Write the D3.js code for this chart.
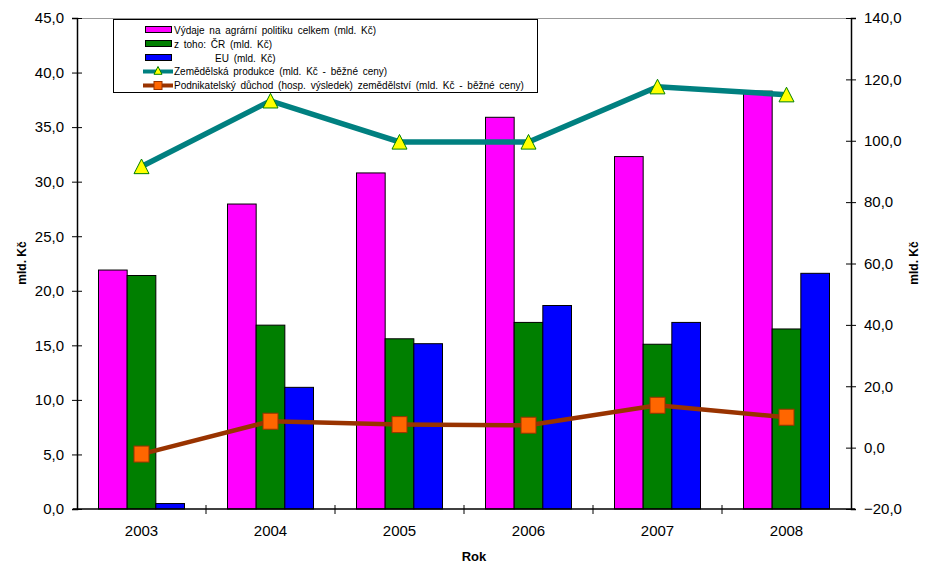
<!DOCTYPE html>
<html>
<head>
<meta charset="utf-8">
<script src="https://cdn.jsdelivr.net/npm/d3@7"></script>
<style>
  html, body { margin: 0; padding: 0; background: #fff; }
  svg { display: block; font-family: "Liberation Sans", Arial, sans-serif; }
</style>
</head>
<body>
<svg id="chart" width="935" height="577"></svg>
<script>
// ---- Data ----
const years = ["2003", "2004", "2005", "2006", "2007", "2008"];
const vydajeCelkem = [21.9, 27.95, 30.8, 35.9, 32.3, 38.3];
const vydajeCR = [21.4, 16.85, 15.6, 17.1, 15.1, 16.5];
const vydajeEU = [0.5, 11.15, 15.15, 18.65, 17.1, 21.6];
const zemProdukce = [91.6, 113.0, 99.6, 99.6, 117.6, 115.0];
const podnDuchod = [-2.1, 8.6, 7.5, 7.3, 13.8, 9.9];
const leftTicks = [0, 5, 10, 15, 20, 25, 30, 35, 40, 45];
const rightTicks = [-20, 0, 20, 40, 60, 80, 100, 120, 140];
const barSeriesNames = ["Výdaje na agrární politiku celkem (mld. Kč)", "z toho: ČR (mld. Kč)", "EU (mld. Kč)"];
const lineSeriesNames = ["Zemědělská produkce (mld. Kč - běžné ceny)", "Podnikatelský důchod (hosp. výsledek) zemědělství (mld. Kč - běžné ceny)"];
const barColors = ["#ff00ff", "#007f00", "#0000ff"];

const svg = d3.select("#chart");
const L = 77, R = 851, T = 18, B = 509;

const x0 = d3.scaleBand().domain(years).range([L, R]).padding(0);
const bw = x0.bandwidth();
const groupW = bw * 3 / 4.5;
const x1 = d3.scaleBand().domain([0, 1, 2]).range([0, groupW]).padding(0);
const yL = d3.scaleLinear().domain([0, 45]).range([B, T]);
const yR = d3.scaleLinear().domain([-20, 140]).range([B, T]);
const fmt = v => d3.format(".1f")(v).replace(".", ",");

// top border of plot area
svg.append("line").attr("x1", L).attr("x2", R).attr("y1", T + 0.5).attr("y2", T + 0.5)
  .attr("stroke", "#999").attr("stroke-width", 1);

// bars
const barData = [vydajeCelkem, vydajeCR, vydajeEU];
barData.forEach((arr, si) => {
  svg.append("g").selectAll("rect").data(years).join("rect")
    .attr("x", (d) => x0(d) + (bw - groupW) / 2 + x1(si))
    .attr("width", x1.bandwidth())
    .attr("y", (d, i) => yL(arr[i]))
    .attr("height", (d, i) => yL(0) - yL(arr[i]))
    .attr("fill", barColors[si])
    .attr("stroke", "#000").attr("stroke-width", 1);
});

// axes
const gL = svg.append("g").attr("transform", `translate(${L},0)`)
  .call(d3.axisLeft(yL).tickValues(leftTicks).tickFormat(fmt).tickSize(5).tickPadding(8));
const gR = svg.append("g").attr("transform", `translate(${R},0)`)
  .call(d3.axisRight(yR).tickValues(rightTicks).tickFormat(fmt).tickSize(5).tickPadding(8));
[gL, gR].forEach(g => {
  g.select(".domain").attr("stroke", "#000").attr("stroke-width", 1.5);
  g.selectAll(".tick line").attr("stroke", "#000");
  g.selectAll(".tick text").attr("font-size", 15).attr("fill", "#000")
    .attr("font-family", "Liberation Sans, Arial, sans-serif");
});
gL.selectAll(".tick line").attr("x1", 5).attr("x2", -5);
gR.selectAll(".tick line").attr("x1", -5).attr("x2", 5);

// category axis
const gB = svg.append("g").attr("transform", `translate(0,${B})`);
gB.append("line").attr("x1", L - 4).attr("x2", R + 4).attr("y1", 0).attr("y2", 0)
  .attr("stroke", "#000").attr("stroke-width", 1.5);
gB.selectAll("line.tk").data(years.slice(1)).join("line").attr("class", "tk")
  .attr("x1", d => x0(d)).attr("x2", d => x0(d)).attr("y1", -4).attr("y2", 5)
  .attr("stroke", "#000");
gB.selectAll("text").data(years).join("text")
  .attr("x", d => x0(d) + bw / 2).attr("y", 27)
  .attr("text-anchor", "middle").attr("font-size", 15).text(d => d);

// axis titles
svg.append("text").attr("x", 474).attr("y", 561).attr("text-anchor", "middle")
  .attr("font-size", 13).attr("font-weight", "bold").text("Rok");
svg.append("text").attr("transform", "translate(26,263) rotate(-90)").attr("text-anchor", "middle")
  .attr("font-size", 12).attr("font-weight", "bold").text("mld. Kč");
svg.append("text").attr("transform", "translate(918,263) rotate(-90)").attr("text-anchor", "middle")
  .attr("font-size", 12).attr("font-weight", "bold").text("mld. Kč");

// lines
const cx = d => x0(d) + bw / 2;
const lineGen = arr => d3.line().x(cx).y((d, i) => yR(arr[i]));
svg.append("path").datum(years).attr("d", lineGen(zemProdukce))
  .attr("fill", "none").attr("stroke", "#008080").attr("stroke-width", 5.5);
svg.append("path").datum(years).attr("d", lineGen(podnDuchod))
  .attr("fill", "none").attr("stroke", "#993300").attr("stroke-width", 4.5);

const triPath = s => `M0,${-s} L${s * 1.0},${s * 0.95} L${-s * 1.0},${s * 0.95} Z`;
svg.append("g").selectAll("path").data(years).join("path")
  .attr("transform", (d, i) => `translate(${cx(d)},${yR(zemProdukce[i])})`)
  .attr("d", triPath(7.5))
  .attr("fill", "#ffff00").attr("stroke", "#008000").attr("stroke-width", 1);
svg.append("g").selectAll("rect").data(years).join("rect")
  .attr("x", d => cx(d) - 7.5).attr("y", (d, i) => yR(podnDuchod[i]) - 8)
  .attr("width", 15).attr("height", 16)
  .attr("fill", "#ff6600").attr("stroke", "#993300").attr("stroke-width", 1);

// legend
const lg = svg.append("g");
lg.append("rect").attr("x", 113.5).attr("y", 19.5).attr("width", 424).attr("height", 73)
  .attr("fill", "#fff").attr("stroke", "#000").attr("stroke-width", 1);
const rowY = [30, 44, 58, 71.5, 85.5];
barSeriesNames.forEach((n, i) => {
  lg.append("rect").attr("x", 145.5).attr("y", rowY[i] - 3.5).attr("width", 26).attr("height", 6)
    .attr("fill", barColors[i]).attr("stroke", "#000").attr("stroke-width", 1);
});
lg.append("text").attr("x", 174).attr("y", rowY[0] + 3.5).attr("font-size", 10).attr("word-spacing", 2).text(barSeriesNames[0]);
lg.append("text").attr("x", 174).attr("y", rowY[1] + 3.5).attr("font-size", 10).attr("word-spacing", 2).text(barSeriesNames[1]);
lg.append("text").attr("x", 215).attr("y", rowY[2] + 3.5).attr("font-size", 10).attr("word-spacing", 2).text(barSeriesNames[2]);
// line legend entries
lg.append("line").attr("x1", 143).attr("x2", 173).attr("y1", rowY[3]).attr("y2", rowY[3])
  .attr("stroke", "#008080").attr("stroke-width", 4);
lg.append("path").attr("transform", `translate(158,${rowY[3] - 1})`).attr("d", triPath(4))
  .attr("fill", "#ffff00").attr("stroke", "#008000").attr("stroke-width", 1);
lg.append("line").attr("x1", 143).attr("x2", 173).attr("y1", rowY[4]).attr("y2", rowY[4])
  .attr("stroke", "#993300").attr("stroke-width", 4);
lg.append("rect").attr("x", 154).attr("y", rowY[4] - 4).attr("width", 8).attr("height", 8)
  .attr("fill", "#ff6600").attr("stroke", "#993300").attr("stroke-width", 1);
lg.append("text").attr("x", 174).attr("y", rowY[3] + 3.5).attr("font-size", 10).attr("word-spacing", 2).text(lineSeriesNames[0]);
lg.append("text").attr("x", 174).attr("y", rowY[4] + 3.5).attr("font-size", 10).attr("word-spacing", 2).text(lineSeriesNames[1]);
</script>
</body>
</html>
